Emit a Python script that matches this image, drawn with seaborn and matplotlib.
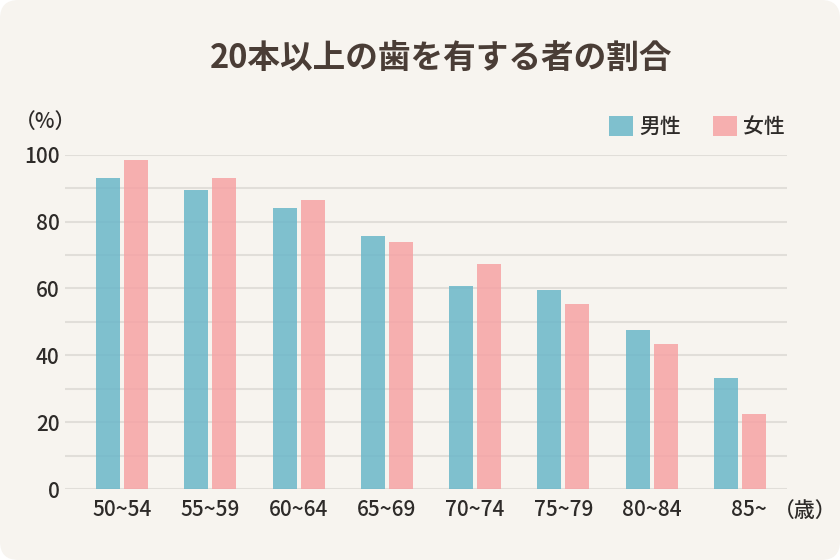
import matplotlib
matplotlib.use("Agg")
import matplotlib.pyplot as plt
import matplotlib.transforms as mtransforms
from matplotlib.patches import FancyBboxPatch, Patch
import seaborn as sns
import pandas as pd

# ---- data ----
ages = ["50~54", "55~59", "60~64", "65~69", "70~74", "75~79", "80~84", "85~"]
male = [93.0, 89.3, 84.0, 75.6, 60.7, 59.5, 47.6, 33.2]
female = [98.3, 92.9, 86.4, 73.8, 67.3, 55.3, 43.4, 22.5]
series = ["男性", "女性"]
yticks = [0, 20, 40, 60, 80, 100]
title = "20本以上の歯を有する者の割合"

df = pd.DataFrame({
    "age": ages * 2,
    "sex": [series[0]] * len(ages) + [series[1]] * len(ages),
    "value": male + female,
})

BG = "#F7F4EF"
GRID = "#E1DED9"
C_M = "#6AB7C9"
C_F = "#F6A3A4"
TXT = "#2E2B29"

sns.set_theme(style="white")
plt.rcParams["font.family"] = ["Noto Sans CJK JP", "DejaVu Sans"]

fig = plt.figure(figsize=(8.4, 5.6), dpi=100, facecolor="white")
card = FancyBboxPatch((0, 0), 1, 1,
                      boxstyle="round,pad=0,rounding_size=0.022",
                      transform=fig.transFigure, facecolor=BG,
                      edgecolor="none", linewidth=0, zorder=-10,
                      mutation_aspect=840 / 560)
fig.patches.append(card)

ax = fig.add_axes([65 / 840, (560 - 489.3) / 560, (787 - 65) / 840, 334.7 / 560])
ax.set_facecolor("none")

# gridlines every 10
for v in range(0, 101, 10):
    ax.axhline(v, color=GRID, lw=1.5, zorder=0)

sns.barplot(data=df, x="age", y="value", hue="sex", palette=[C_M, C_F],
            width=0.634, gap=0.14, alpha=0.85, saturation=1, ax=ax,
            legend=False, errorbar=None, zorder=2, linewidth=0)

ax.set_xlim(-0.645, 7.532)
ax.set_ylim(0, 100)
ax.set_yticks(yticks)
ax.set_yticklabels([str(t) for t in yticks], fontsize=15, color=TXT,
                   fontweight="medium")
ax.set_xticks(range(len(ages)))
ax.set_xticklabels(ages, fontsize=15, color=TXT, fontweight="medium")
ax.tick_params(axis="both", length=0)
ax.tick_params(axis="y", pad=4)
ax.tick_params(axis="x", pad=7)
ax.set_xlabel("")
ax.set_ylabel("")
for s in ax.spines.values():
    s.set_visible(False)

# shift last tick label slightly right
lbl = ax.get_xticklabels()[-1]
lbl.set_transform(lbl.get_transform() + mtransforms.ScaledTranslation(9 / 100, 0, fig.dpi_scale_trans))

fig.text(441 / 840, 1 - 58 / 560, title, ha="center", va="center",
         fontsize=23.5, fontweight="bold", color="#4A3D36")
fig.text(46 / 840, 1 - 122 / 560, "（%）", ha="center", va="center",
         fontsize=15, color=TXT, fontweight="medium")
fig.text(805 / 840, 1 - 511 / 560, "（歳）", ha="center", va="center",
         fontsize=15, color=TXT, fontweight="medium")

handles = [Patch(facecolor=C_M, alpha=0.85, edgecolor="none"),
           Patch(facecolor=C_F, alpha=0.85, edgecolor="none")]
fig.legend(handles, series, loc="center left",
           bbox_to_anchor=(609 / 840, 1 - 127 / 560), ncol=2, frameon=False,
           prop={"size": 15, "weight": "medium"}, handlelength=1.15,
           handleheight=1.05, handletextpad=0.3, columnspacing=1.55,
           borderpad=0, borderaxespad=0, labelcolor=TXT)

fig.savefig("out.png", dpi=100, facecolor="white")
